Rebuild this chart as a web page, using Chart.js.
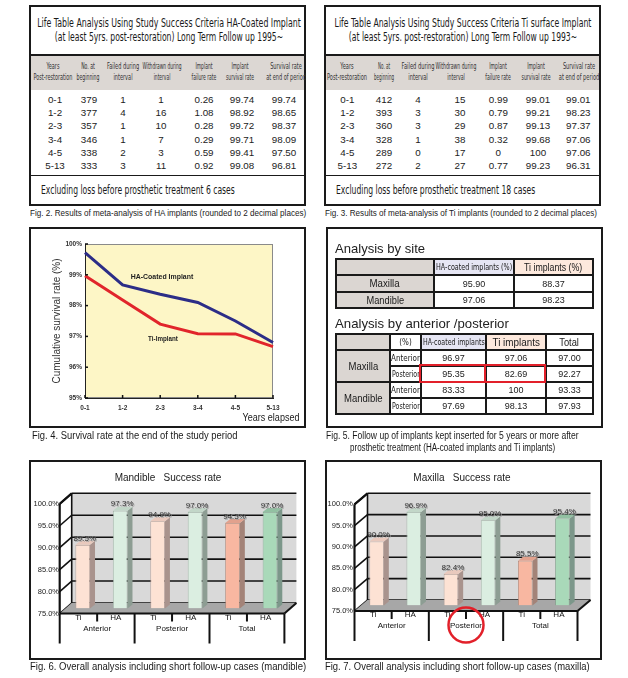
<!DOCTYPE html>
<html>
<head>
<meta charset="utf-8">
<script src="https://cdn.jsdelivr.net/npm/chart.js@4.4.1/dist/chart.umd.min.js"></script>
<style>
html, body { margin: 0; padding: 0; background: #fff; }
#page { position: relative; width: 628px; height: 678px; overflow: hidden; font-family: "Liberation Sans", Arial, sans-serif; color: #1a1a1a; }
.box { position: absolute; border: 2px solid #1a1a1a; box-sizing: border-box; }
.rc { position: absolute; }
.tx { position: absolute; white-space: nowrap; line-height: 1.15; text-align: center; }
canvas { position: absolute; }
table.t5 { position: absolute; border-collapse: collapse; table-layout: fixed; }
table.t5 td { border: 2px solid #1a1a1a; padding: 0; text-align: center; white-space: nowrap; overflow: visible; font-size: 9px; }
.fit { display: inline-block; margin: 0 -40px; }
</style>
</head>
<body>
<div id="page">
  <canvas id="c4" width="273" height="197" style="left:31px;top:229px"></canvas>
  <canvas id="c6" width="273" height="196" style="left:31px;top:462px"></canvas>
  <canvas id="c7" width="273" height="196" style="left:327px;top:462px"></canvas>
</div>
<script>
// ---- Fig 2 / Fig 3 life tables
var yearRows = ['0-1', '1-2', '2-3', '3-4', '4-5', '5-13'];
var haStart = [379, 377, 357, 346, 338, 333];
var haFailed = [1, 4, 1, 1, 2, 3];
var haWithdrawn = [1, 16, 10, 7, 3, 11];
var haFailRate = ['0.26', '1.08', '0.28', '0.29', '0.59', '0.92'];
var haSurvRate = ['99.74', '98.92', '99.72', '99.71', '99.41', '99.08'];
var haCumRate = ['99.74', '98.65', '98.37', '98.09', '97.50', '96.81'];

var tiStart = [412, 393, 360, 328, 289, 272];
var tiFailed = [4, 3, 3, 1, 0, 2];
var tiWithdrawn = [15, 30, 29, 38, 17, 27];
var tiFailRate = ['0.99', '0.79', '0.87', '0.32', '0', '0.77'];
var tiSurvRate = ['99.01', '99.21', '99.13', '99.68', '100', '99.23'];
var tiCumRate = ['99.01', '98.23', '97.37', '97.06', '97.06', '96.31'];

// ---- Fig 4 survival curves
var yearLabels = ['0-1', '1-2', '2-3', '3-4', '4-5', '5-13'];
var haLine = [99.72, 98.67, 98.37, 98.10, 97.50, 96.80];
var tiLine = [98.97, 98.18, 97.40, 97.09, 97.08, 96.67];

// ---- Fig 5 tables
var siteRows = ['Maxilla', 'Mandible'];
var siteHA = ['95.90', '97.06'];
var siteTi = ['88.37', '98.23'];
var apParts = ['Anterior', 'Posterior'];
var apHA = ['96.97', '95.35', '83.33', '97.69'];
var apTi = ['97.06', '82.69', '100', '98.13'];
var apTotal = ['97.00', '92.27', '93.33', '97.93'];

// ---- Fig 6 / Fig 7 bars
var barLabels = ['Ti', 'HA', 'Ti', 'HA', 'Ti', 'HA'];
var barGroups = ['Anterior', 'Posterior', 'Total'];
var mandibleRates = [89.5, 97.3, 94.9, 97.0, 94.5, 97.0];
var maxillaRates = [90.0, 96.9, 82.4, 95.0, 85.5, 95.4];

var NARROW = "'Liberation Sans Narrow','DejaVu Sans Condensed',sans-serif";
var page = document.getElementById('page');

function put(html, x, y, o) {
    o = o || {};
    var el = document.createElement('div');
    el.className = 'tx';
    el.innerHTML = html;
    el.style.left = x + 'px';
    el.style.top = y + 'px';
    el.style.fontSize = (o.size || 10) + 'px';
    if (o.font) el.style.fontFamily = o.font;
    if (o.bold) el.style.fontWeight = 'bold';
    if (o.lh) el.style.lineHeight = o.lh + 'px';
    if (o.color) el.style.color = o.color;
    var left = o.anchor === 'l';
    el.dataset.t = left ? 'translate(0,-50%)' : 'translate(-50%,-50%)';
    el.style.transformOrigin = left ? '0 50%' : '50% 50%';
    el.style.transform = el.dataset.t;
    if (o.w) el.dataset.w = o.w;
    page.appendChild(el);
    return el;
}

function rect(x, y, w, h, bg, cls) {
    var el = document.createElement('div');
    el.className = cls || 'rc';
    el.style.left = x + 'px';
    el.style.top = y + 'px';
    el.style.width = w + 'px';
    el.style.height = h + 'px';
    if (bg) el.style.background = bg;
    page.appendChild(el);
    return el;
}

function fitSpan(txt, w, size, font) {
    return '<span class="fit" data-w="' + w + '" style="font-size:' + size + 'px;' +
        (font ? 'font-family:' + font : '') + '">' + txt + '</span>';
}

var colHeads = ['Years<br>Post-restoration', 'No. at<br>beginning', 'Failed during<br>interval',
    'Withdrawn during<br>interval', 'Implant<br>failure rate', 'Implant<br>survival rate',
    'Survival rate<br>at end of period'];
var rowY = [100, 113.2, 126.4, 139.6, 152.8, 166];

function lifeTable(t) {
    rect(t.x, 5, 277, 201, null, 'box');
    rect(t.x + 2, 54, 273, 2, '#1a1a1a');
    rect(t.x + 2, 56, 273, 34, '#dcd7d3');
    rect(t.x + 2, 175, 273, 1.2, '#1a1a1a');
    put(t.title[0], t.titleCx, 24, { size: 11.5, font: NARROW, w: t.titleW[0] });
    put(t.title[1], t.titleCx, 38, { size: 11.5, font: NARROW, w: t.titleW[1] });
    colHeads.forEach(function (h, i) {
        put(h, t.headCx[i], 72, { size: 8, font: NARROW, lh: 10.5, w: t.headW[i], color: '#333' });
    });
    t.cols.forEach(function (col, i) {
        col.forEach(function (v, r) {
            put(String(v), t.dataCx[i], rowY[r], { size: 9.8, color: '#222' });
        });
    });
    put(t.foot, t.footX, 191, { size: 11.5, font: NARROW, anchor: 'l', w: t.footW });
    put(t.cap, t.capX, 213, { size: 9.5, anchor: 'l', w: t.capW });
}

lifeTable({
    x: 29,
    title: ['Life Table Analysis Using Study Success Criteria HA-Coated Implant',
        '(at least 5yrs. post-restoration) Long Term Follow up 1995~'],
    titleCx: 168.5, titleW: [264, 228],
    headCx: [53, 88, 123, 162, 204, 240, 286], headW: [39, 23, 32, 39, 25, 28, 40],
    dataCx: [55, 89, 123, 161, 204, 242, 284],
    cols: [yearRows, haStart, haFailed, haWithdrawn, haFailRate, haSurvRate, haCumRate],
    foot: 'Excluding loss before prosthetic treatment 6 cases', footX: 40.7, footW: 194,
    cap: 'Fig. 2. Results of meta-analysis of HA implants (rounded to 2 decimal places)', capX: 29.7, capW: 276
});

lifeTable({
    x: 324,
    title: ['Life Table Analysis Using Study Success Criteria Ti surface Implant',
        '(at least 5yrs. post-restoration) Long Term Follow up 1993~'],
    titleCx: 463.2, titleW: [257, 228],
    headCx: [347.3, 384.3, 418, 456, 498.3, 535.7, 579], headW: [40, 20, 32.7, 40.7, 25.7, 29, 40.7],
    dataCx: [347.3, 384, 418, 460, 498.3, 538, 578.3],
    cols: [yearRows, tiStart, tiFailed, tiWithdrawn, tiFailRate, tiSurvRate, tiCumRate],
    foot: 'Excluding loss before prosthetic treatment 18 cases', footX: 335.7, footW: 199,
    cap: 'Fig. 3. Results of meta-analysis of Ti implants (rounded to 2 decimal places)', capX: 324.7, capW: 272
});

// ---- Fig 4 frame and texts
rect(29, 227, 277, 201, null, 'box');
put('HA-Coated Implant', 161.5, 277, { size: 7.5, bold: true, w: 63, color: '#222' });
put('Ti-Implant', 163, 339, { size: 7.5, bold: true, w: 30, color: '#222' });
put('Years elapsed', 270.5, 418, { size: 10, w: 57, color: '#222' });
put('Fig. 4. Survival rate at the end of the study period', 32.3, 436, { size: 10, anchor: 'l', w: 205 });

// ---- Fig 5 tables
rect(326, 227, 277, 201, null, 'box');
put('Analysis by site', 335, 249, { size: 13.5, anchor: 'l', w: 90, color: '#222' });
put('Analysis by anterior /posterior', 335, 324, { size: 13.5, anchor: 'l', w: 174, color: '#222' });

var GRAY = '#dbd6d2', LAV = '#e6e6f4', PEACH = '#fde9dd';
var h1 = '<table class="t5" style="left:335px;top:258px;width:257px">' +
    '<colgroup><col style="width:98px"><col style="width:80px"><col style="width:79px"></colgroup>' +
    '<tr style="height:16px"><td style="background:' + GRAY + '"></td>' +
    '<td style="background:' + LAV + '">' + fitSpan('HA-coated implants (%)', 76, 9, NARROW) + '</td>' +
    '<td style="background:' + PEACH + '">' + fitSpan('Ti implants (%)', 58, 10) + '</td></tr>';
siteRows.forEach(function (s, i) {
    h1 += '<tr style="height:' + (i === 0 ? 17 : 16) + 'px"><td style="background:' + GRAY + '">' + fitSpan(s, i === 0 ? 30 : 38, 10) + '</td>' +
        '<td>' + siteHA[i] + '</td><td>' + siteTi[i] + '</td></tr>';
});
h1 += '</table>';

var h2 = '<table class="t5" style="left:335px;top:333px;width:257px">' +
    '<colgroup><col style="width:54px"><col style="width:31px"><col style="width:65px"><col style="width:60px"><col style="width:47px"></colgroup>' +
    '<tr style="height:16px"><td style="background:' + GRAY + '"></td>' +
    '<td>' + fitSpan('(%)', 12, 8, NARROW) + '</td>' +
    '<td style="background:' + LAV + '">' + fitSpan('HA-coated implants', 62, 9, NARROW) + '</td>' +
    '<td style="background:' + PEACH + '">' + fitSpan('Ti implants', 47, 10.5) + '</td>' +
    '<td>' + fitSpan('Total', 19.5, 10.5) + '</td></tr>';
for (var r = 0; r < 4; r++) {
    h2 += '<tr style="height:16px">';
    if (r % 2 === 0) h2 += '<td rowspan="2" style="background:' + GRAY + '">' + fitSpan(siteRows[r / 2], r === 0 ? 30 : 39, 10.5) + '</td>';
    h2 += '<td>' + fitSpan(apParts[r % 2], r % 2 === 0 ? 29 : 28, 8.5, NARROW) + '</td>' +
        '<td>' + apHA[r] + '</td><td>' + apTi[r] + '</td><td>' + apTotal[r] + '</td></tr>';
}
h2 += '</table>';
page.insertAdjacentHTML('beforeend', h1 + h2);
var red1 = rect(419, 364, 67, 19, null);
red1.style.border = '2.5px solid #e2202a'; red1.style.boxSizing = 'border-box';
var red2 = rect(484, 364, 62, 19, null);
red2.style.border = '2.5px solid #e2202a'; red2.style.boxSizing = 'border-box';

put('Fig. 5. Follow up of implants kept inserted for 5 years or more after', 325.7, 436, { size: 10, anchor: 'l', w: 253 });
put('prosthetic treatment (HA-coated implants and Ti implants)', 350, 448, { size: 10, anchor: 'l', w: 205 });

// ---- Fig 6 / 7 frames and texts
rect(29, 460, 277, 200, null, 'box');
rect(325, 460, 277, 200, null, 'box');
put('Mandible&nbsp;&nbsp;&nbsp;Success rate', 168, 478, { size: 10, color: '#222' });
put('Maxilla&nbsp;&nbsp;&nbsp;Success rate', 462, 478, { size: 10, color: '#222' });
put('Fig. 6. Overall analysis including short follow-up cases (mandible)', 29.7, 667, { size: 10, anchor: 'l', w: 276 });
put('Fig. 7. Overall analysis including short follow-up cases (maxilla)', 324.7, 667, { size: 10, anchor: 'l', w: 265 });

// squeeze texts to the widths measured in the reference
document.querySelectorAll('[data-w]').forEach(function (el) {
    var s = parseFloat(el.dataset.w) / el.offsetWidth;
    el.style.transform = (el.dataset.t || '') + ' scaleX(' + s + ')';
});

// ---- charts
Chart.defaults.font.family = '"Liberation Sans", Arial, sans-serif';
Chart.defaults.color = '#222';

var plotBg = {
    id: 'plotBg',
    beforeDraw: function (chart) {
        var a = chart.chartArea, ctx = chart.ctx;
        ctx.save();
        ctx.fillStyle = '#fdf6c6';
        ctx.fillRect(a.left, a.top, a.right - a.left, a.bottom - a.top);
        ctx.strokeStyle = '#8a8a8a';
        ctx.lineWidth = 1;
        ctx.strokeRect(a.left + 0.5, a.top + 0.5, a.right - a.left - 1, a.bottom - a.top - 1);
        ctx.restore();
    },
    afterDraw: function (chart) {
        var a = chart.chartArea, ctx = chart.ctx;
        ctx.save();
        ctx.strokeStyle = '#111';
        ctx.lineWidth = 1.5;
        chart.scales.x.ticks.forEach(function (t, i) {
            var px = chart.scales.x.getPixelForTick(i);
            ctx.beginPath(); ctx.moveTo(px, a.bottom); ctx.lineTo(px, a.bottom - 3); ctx.stroke();
        });
        chart.scales.y.ticks.forEach(function (t) {
            var py = chart.scales.y.getPixelForValue(t.value);
            ctx.beginPath(); ctx.moveTo(a.left, py); ctx.lineTo(a.left + 3, py); ctx.stroke();
        });
        ctx.restore();
    }
};

new Chart(document.getElementById('c4'), {
    type: 'line',
    data: {
        labels: yearLabels,
        datasets: [
            { label: 'Ti-Implant', data: tiLine, borderColor: '#e1252b', borderWidth: 3, pointRadius: 0, tension: 0 },
            { label: 'HA-Coated Implant', data: haLine, borderColor: '#2c2d87', borderWidth: 3, pointRadius: 0, tension: 0 }
        ]
    },
    options: {
        responsive: false,
        animation: false,
        layout: { padding: { top: 15, right: 31, bottom: 0, left: 0 } },
        plugins: { legend: { display: false }, tooltip: { enabled: false } },
        scales: {
            x: {
                offset: false,
                grid: { display: false, drawTicks: false },
                border: { color: '#222' },
                ticks: { font: { size: 6.5, weight: 'bold' }, color: '#333', padding: 6, maxRotation: 0, autoSkip: false },
                afterFit: function (s) { s.height = 28; }
            },
            y: {
                min: 95,
                max: 100,
                grid: { display: false, drawTicks: false },
                border: { color: '#222' },
                ticks: { stepSize: 1, font: { size: 6.5, weight: 'bold' }, color: '#333', padding: 3,
                    callback: function (v) { return v + '%'; } },
                title: { display: true, text: 'Cumulative survival rate (%)', font: { size: 10 }, color: '#333',
                    padding: { top: 20, bottom: 0 } },
                afterFit: function (s) { s.width = 54; }
            }
        }
    },
    plugins: [plotBg]
});

function line(ctx, x1, y1, x2, y2) {
    ctx.beginPath(); ctx.moveTo(x1, y1); ctx.lineTo(x2, y2); ctx.stroke();
}
function poly(ctx, pts) {
    ctx.beginPath();
    ctx.moveTo(pts[0][0], pts[0][1]);
    for (var i = 1; i < pts.length; i++) ctx.lineTo(pts[i][0], pts[i][1]);
    ctx.closePath();
}

var fronts = ['#fde2d4', '#dbeee1', '#fde2d4', '#dbeee1', '#f8b7a1', '#a9d9b9'];
var edges = ['#b59c94', '#98aa9e', '#b59c94', '#98aa9e', '#b08878', '#7f9f8a'];
var sides = ['#a9938d', '#8d9d93', '#a9938d', '#8d9d93', '#a38378', '#7c978a'];
var tops = ['#e9c9bd', '#c2d6c8', '#e9c9bd', '#c2d6c8', '#e2a18d', '#92c0a2'];

// 3D looking frame: back wall, side wall, floor, separators
function frame3d(cfg) {
    return {
        id: 'frame3d',
        beforeDatasetsDraw: function (chart) {
            var ctx = chart.ctx, a = chart.chartArea, y = chart.scales.y;
            var y0 = y.getPixelForValue(75), y1 = y.getPixelForValue(100);
            ctx.save();
            ctx.fillStyle = '#d9d9d9';
            ctx.fillRect(a.left + cfg.bx, y1 + cfg.by, a.right - a.left, y0 - y1);
            ctx.strokeStyle = '#111';
            ctx.lineWidth = 1.6;
            y.ticks.forEach(function (t) {
                var py = y.getPixelForValue(t.value);
                line(ctx, a.left + cfg.bx, py + cfg.by, a.right + cfg.bx, py + cfg.by);
                line(ctx, a.left + cfg.fx, py + cfg.fy, a.left + cfg.bx, py + cfg.by);
            });
            line(ctx, a.left + cfg.bx, y1 + cfg.by, a.left + cfg.bx, y0 + cfg.by);
            ctx.fillStyle = '#a7a7a7';
            poly(ctx, [[a.left + cfg.fx, y0 + cfg.fy], [a.right + cfg.fx, y0 + cfg.fy],
                [a.right + cfg.bx, y0 + cfg.by], [a.left + cfg.bx, y0 + cfg.by]]);
            ctx.fill();
            ctx.lineWidth = 2;
            line(ctx, a.left + cfg.fx, y0 + cfg.fy, a.right + cfg.fx, y0 + cfg.fy);
            line(ctx, a.right + cfg.fx, y0 + cfg.fy, a.right + cfg.bx, y0 + cfg.by);
            ctx.lineWidth = 2.2;
            line(ctx, a.left + cfg.fx, y1 + cfg.fy, a.left + cfg.fx, y0 + cfg.fy);
            line(ctx, a.left + cfg.fx, y1 + cfg.fy, a.left + cfg.bx, y1 + cfg.by);
            ctx.restore();
        },
        afterDatasetsDraw: function (chart) {
            var ctx = chart.ctx, meta = chart.getDatasetMeta(0), vals = chart.data.datasets[0].data;
            ctx.save();
            meta.data.forEach(function (bar, i) {
                var p = bar.getProps(['x', 'y', 'base', 'width'], true);
                var l = p.x - p.width / 2, r = p.x + p.width / 2;
                ctx.fillStyle = sides[i];
                poly(ctx, [[r, p.y], [r + 5, p.y - 4], [r + 5, p.base - 4], [r, p.base]]);
                ctx.fill();
                ctx.fillStyle = tops[i];
                poly(ctx, [[l, p.y], [l + 5, p.y - 4], [r + 5, p.y - 4], [r, p.y]]);
                ctx.fill();
            });
            // value labels sit just above the top face
            ctx.font = '8px "Liberation Sans", Arial';
            ctx.textAlign = 'center';
            ctx.textBaseline = 'bottom';
            meta.data.forEach(function (bar, i) {
                var p = bar.getProps(['x', 'y'], true);
                var s = vals[i].toFixed(1) + '%';
                ctx.fillStyle = '#a0a0a0';
                ctx.fillText(s, p.x + 3, p.y - 1.5);
                ctx.fillStyle = '#333';
                ctx.fillText(s, p.x + 2, p.y - 2.5);
            });
            ctx.restore();
        },
        afterDraw: function (chart) {
            var ctx = chart.ctx, a = chart.chartArea, x = chart.scales.x, y = chart.scales.y;
            var yb = y.getPixelForValue(75) + cfg.fy;
            var gw = (a.right - a.left) / barGroups.length;
            ctx.save();
            ctx.strokeStyle = '#111';
            ctx.lineWidth = 2;
            for (var g = 0; g <= barGroups.length; g++) {
                var gx = a.left + g * gw + cfg.fx;
                line(ctx, gx, yb, gx, yb + 30);
            }
            ctx.font = '8px "Liberation Sans", Arial';
            ctx.textAlign = 'center';
            ctx.textBaseline = 'middle';
            ctx.fillStyle = '#111';
            barGroups.forEach(function (name, g) {
                var cx = (x.getPixelForValue(2 * g) + x.getPixelForValue(2 * g + 1)) / 2 + cfg.fx;
                line(ctx, cx, yb, cx, yb + 8);
                ctx.fillText(name, cx, yb + 15);
                if (cfg.circle === g) {
                    ctx.strokeStyle = '#e2202a';
                    ctx.lineWidth = 2.5;
                    ctx.beginPath();
                    ctx.arc(cx, yb + 14, 17.5, 0, Math.PI * 2);
                    ctx.stroke();
                    ctx.strokeStyle = '#111';
                    ctx.lineWidth = 2;
                }
            });
            ctx.restore();
        }
    };
}

function barChart(id, values, cfg) {
    return new Chart(document.getElementById(id), {
        type: 'bar',
        data: {
            labels: barLabels,
            datasets: [{
                data: values,
                base: 75,
                backgroundColor: fronts,
                borderColor: edges,
                borderWidth: 0.8,
                categoryPercentage: 1,
                barPercentage: 0.39
            }]
        },
        options: {
            responsive: false,
            animation: false,
            layout: { padding: { top: 36.8, right: cfg.padRight, bottom: 0, left: 0 } },
            plugins: { legend: { display: false }, tooltip: { enabled: false } },
            scales: {
                x: {
                    grid: { display: false, drawTicks: false },
                    border: { display: false },
                    ticks: { color: '#111', font: { size: 8 }, padding: 4, labelOffset: cfg.fx, maxRotation: 0, autoSkip: false },
                    afterFit: function (s) { s.height = cfg.xh; }
                },
                y: {
                    min: 75,
                    max: 100,
                    grid: { display: false, drawTicks: false },
                    border: { display: false },
                    ticks: { stepSize: 5, color: '#222', font: { size: 7.5 }, padding: 5, labelOffset: cfg.fy,
                        callback: function (v) { return v.toFixed(1) + '%'; } },
                    afterFit: function (s) { s.width = cfg.yw; }
                }
            }
        },
        plugins: [frame3d(cfg)]
    });
}

barChart('c6', mandibleRates, { yw: 33, padRight: 15.3, xh: 49.5, fx: -4.3, fy: 5, bx: 7.7, by: -5.5, circle: -1 });
barChart('c7', maxillaRates, { yw: 31, padRight: 19, xh: 52.5, fx: -3.5, fy: 5.5, bx: 9.5, by: -5.5, circle: 1 });
</script>
</body>
</html>
